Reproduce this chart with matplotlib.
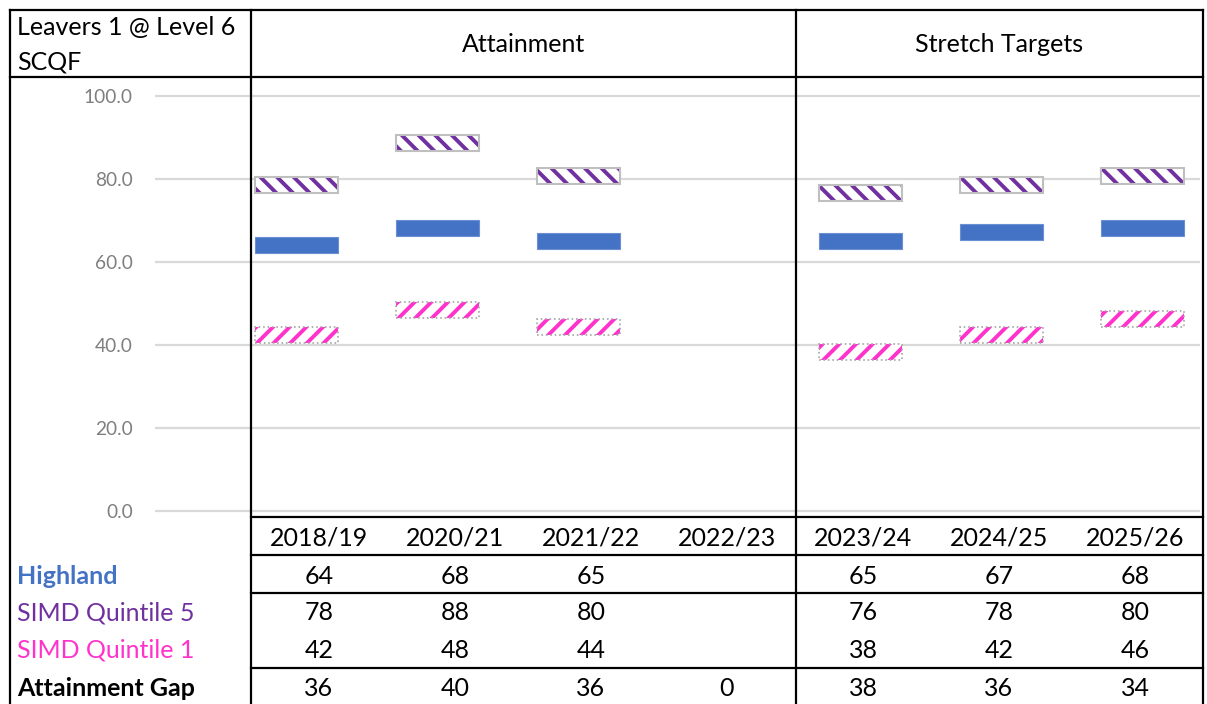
# -*- coding: utf-8 -*-
# Leavers 1 @ Level 6 SCQF - attainment and stretch targets

# %% Import

import numpy as np
import matplotlib.pyplot as plt
from matplotlib.lines import Line2D


# %% Data

years = ["2018/19", "2020/21", "2021/22", "2022/23", "2023/24", "2024/25", "2025/26"]
highland = [64, 68, 65, np.nan, 65, 67, 68]
quintile5 = [78, 88, 80, np.nan, 76, 78, 80]
quintile1 = [42, 48, 44, np.nan, 38, 42, 46]
gap = [36, 40, 36, 0, 38, 36, 34]

row_names = ["Highland", "SIMD Quintile 5", "SIMD Quintile 1", "Attainment Gap"]
row_colors = ["#4472C4", "#7030A0", "#FF33CC", "black"]
row_bold = [True, False, False, True]


# %% Layout helpers (pixel -> figure fraction)

W, H = 1207, 704
FONT = "Lato"
plt.rcParams["font.family"] = [FONT, "DejaVu Sans"]
plt.rcParams["hatch.linewidth"] = 2.8


def fx(x):
    return x / W


def fy(y):
    return 1 - y / H


fig = plt.figure(figsize=(W / 100, H / 100), dpi=100)


def hline(y, x0, x1, color="black", lw=1.6):
    fig.add_artist(Line2D([fx(x0), fx(x1)], [fy(y), fy(y)], color=color, lw=lw,
                          transform=fig.transFigure, zorder=5))


def vline(x, y0, y1, color="black", lw=1.6):
    fig.add_artist(Line2D([fx(x), fx(x)], [fy(y0), fy(y1)], color=color, lw=lw,
                          transform=fig.transFigure, zorder=5))


# %% Chart

y0_px, y100_px = 511, 96
ppu = (y0_px - y100_px) / 100.0
ymin, ymax = -0.6, 100.6
ax = fig.add_axes([fx(155), fy(y0_px - ymin * ppu), fx(1200) - fx(155),
                   (ymax - ymin) * ppu / H])
ax.set_ylim(ymin, ymax)

slot = 141.0
first = 296.0
ax.set_xlim(-(first - 155) / slot, (1200 - first) / slot)

x = np.arange(len(years))
bw = 83 / slot
bh = 3.9
hl = np.array(highland, dtype=float)
q5 = np.array(quintile5, dtype=float)
q1 = np.array(quintile1, dtype=float)

ax.bar(x, bh, bottom=hl - 1.8, width=bw, color="#4472C4", edgecolor="#6A8FD3", lw=0.8, zorder=3)
ax.bar(x, bh, bottom=q5 - 1.3, width=bw, color="white", edgecolor="#7030A0", hatch="\\\\", lw=0, zorder=3)
ax.bar(x, bh, bottom=q5 - 1.3, width=bw, fill=False, edgecolor="#BFBFBF", lw=1.5, zorder=4)
ax.bar(x, bh, bottom=q1 - 1.6, width=bw, color="white", edgecolor="#FF33CC", hatch="//", lw=0, zorder=3)
ax.bar(x, bh, bottom=q1 - 1.6, width=bw, fill=False, edgecolor="#A6A6A6", lw=1.2, ls=":", zorder=4)

ax.set_yticks(np.arange(0, 101, 20))
ax.set_yticklabels([f"{v:.1f}" for v in np.arange(0, 101, 20)])
ax.tick_params(axis="y", length=0, pad=16, labelsize=13.8, labelcolor="#7F7F7F")
ax.set_xticks([])
ax.grid(axis="y", color="#D9D9D9", lw=1.6)
ax.set_axisbelow(True)
for s in ax.spines.values():
    s.set_visible(False)
ax.patch.set_alpha(0)


# %% Table frame

left, mid1, mid2, right = 10, 251, 796, 1203
top, head = 10, 77
t_top, t_year, t_hl, t_q1 = 517, 555, 593, 668

hline(top, left, right)
hline(head, left, right)
for yy in [t_top, t_year, t_hl, t_q1]:
    hline(yy, mid1, right)
vline(left, top, H + 2)
vline(mid1, top, H + 2)
vline(mid2, top, H + 2)
vline(right, top, H + 2)


# %% Texts

fs = 18
fig.text(fx(17), fy(28), "Leavers 1 @ Level 6", fontsize=fs, va="center", ha="left")
fig.text(fx(17), fy(62), "SCQF", fontsize=fs, va="center", ha="left")
fig.text(fx((mid1 + mid2) / 2), fy(45), "Attainment", fontsize=fs, va="center", ha="center")
fig.text(fx((mid2 + right) / 2), fy(45), "Stretch Targets", fontsize=fs, va="center", ha="center")

col_w = (right - mid1) / len(years)
col_x = [mid1 + col_w * (i + 0.5) for i in range(len(years))]
row_y = [576, 613, 650, 688]

for cx, yr in zip(col_x, years):
    fig.text(fx(cx), fy(538), yr, fontsize=fs, ha="center", va="center")

rows = [highland, quintile5, quintile1, gap]
for ry, name, col, bold, vals in zip(row_y, row_names, row_colors, row_bold, rows):
    fig.text(fx(17), fy(ry), name, fontsize=fs, ha="left", va="center", color=col,
             fontweight="bold" if bold else "normal")
    for cx, v in zip(col_x, vals):
        if not np.isnan(v):
            fig.text(fx(cx), fy(ry), f"{v:.0f}", fontsize=fs, ha="center", va="center")

plt.savefig("out.png", dpi=100, facecolor="white")
